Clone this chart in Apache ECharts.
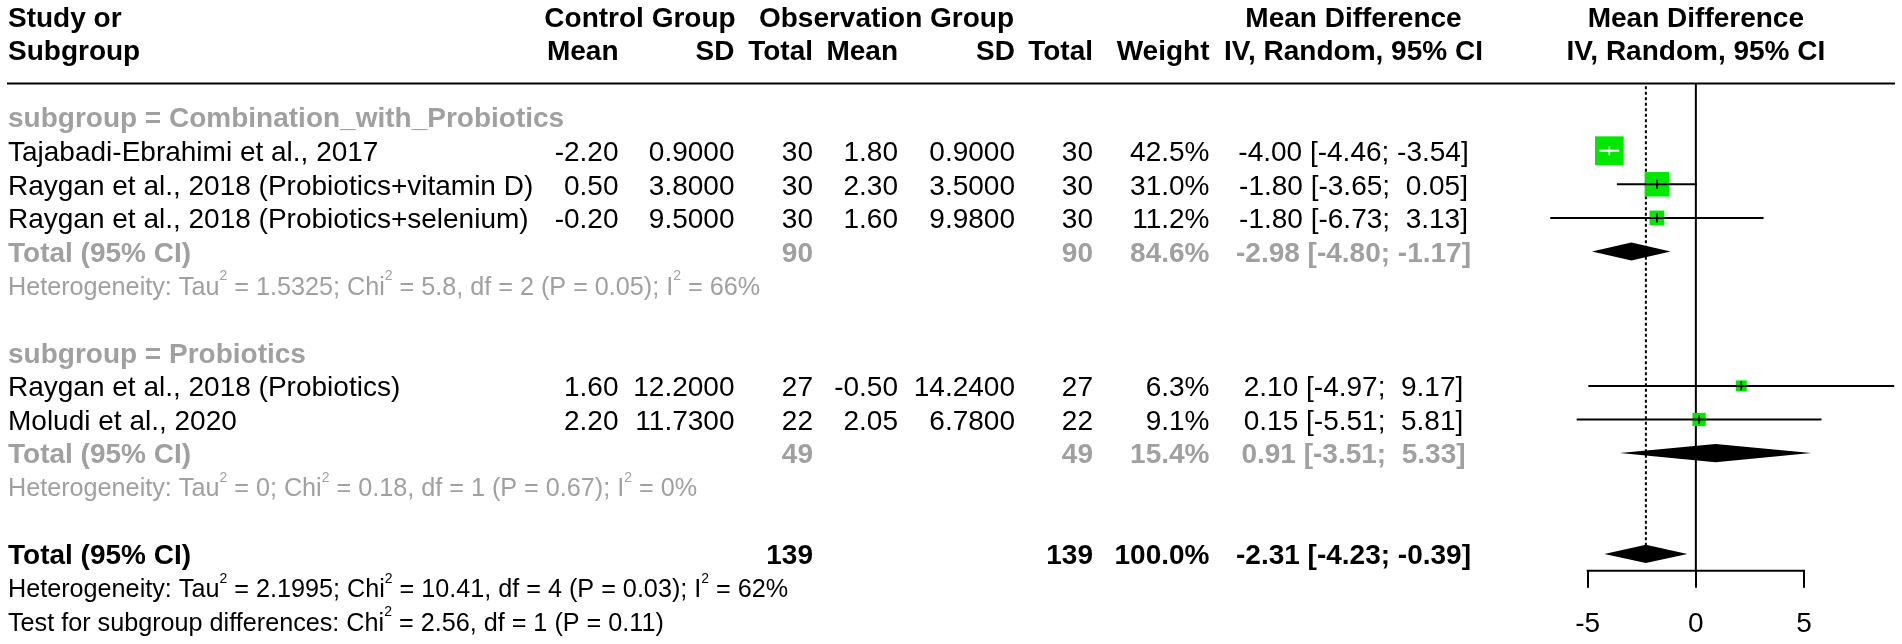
<!DOCTYPE html>
<html><head><meta charset="utf-8">
<script src="https://cdn.jsdelivr.net/npm/echarts@6/dist/echarts.min.js"></script>
<style>html,body{margin:0;padding:0;background:#fff}#c{width:1902px;height:644px}</style>
</head><body><div id="c"></div>
<script>
// ---------- data ----------
const studies = ['Tajabadi-Ebrahimi et al., 2017', 'Raygan et al., 2018 (Probiotics+vitamin D)', 'Raygan et al., 2018 (Probiotics+selenium)', 'Raygan et al., 2018 (Probiotics)', 'Moludi et al., 2020'];
const studyGroup = [0, 0, 0, 1, 1];
const ctrlMean = [-2.20, 0.50, -0.20, 1.60, 2.20];
const ctrlSD = [0.9, 3.8, 9.5, 12.2, 11.73];
const ctrlN = [30, 30, 30, 27, 22];
const obsMean = [1.80, 2.30, 1.60, -0.50, 2.05];
const obsSD = [0.9, 3.5, 9.98, 14.24, 6.78];
const obsN = [30, 30, 30, 27, 22];
const weight = [42.5, 31.0, 11.2, 6.3, 9.1];
const md = [-4.00, -1.80, -1.80, 2.10, 0.15];
const mdLow = [-4.46, -3.65, -6.73, -4.97, -5.51];
const mdHigh = [-3.54, 0.05, 3.13, 9.17, 5.81];

const subgroups = ['Combination_with_Probiotics', 'Probiotics'];
const subCtrlN = [90, 49];
const subObsN = [90, 49];
const subWeight = [84.6, 15.4];
const subMD = [-2.98, 0.91];
const subLow = [-4.80, -3.51];
const subHigh = [-1.17, 5.33];
const subTau2 = ['1.5325', '0'];
const subChi2 = ['5.8', '0.18'];
const subDf = [2, 1];
const subP = ['0.05', '0.67'];
const subI2 = [66, 0];

const totCtrlN = 139, totObsN = 139, totWeight = 100.0;
const totMD = -2.31, totLow = -4.23, totHigh = -0.39;
const totTau2 = '2.1995', totChi2 = '10.41', totDf = 4, totP = '0.03', totI2 = 62;
const testChi2 = '2.56', testDf = 1, testP = '0.11';

const xTicks = [-5, 0, 5];

// ---------- layout helpers ----------
const FONT = '"Liberation Sans", Arial, Helvetica, sans-serif';
const GRAY = '#a0a0a0';
const GREEN = '#00e800';
const TXT_DY = 2.5;
const X = {study: 8, cMean: 618.5, cSD: 734.5, cN: 813, oMean: 898, oSD: 1015, oN: 1093, w: 1209.5, ci: 1353.5, cGroup: 640, oGroup: 886.5};

const rows = [{row: -2, kind: 'head1'}, {row: -1, kind: 'head2'}];
const studyRow = [];
const subRow = [];
let r = 1;
subgroups.forEach((sg, g) => {
  rows.push({row: r++, kind: 'sublabel', g});
  studies.forEach((s, i) => { if (studyGroup[i] === g) { studyRow[i] = r; rows.push({row: r++, kind: 'study', i}); } });
  subRow[g] = r;
  rows.push({row: r++, kind: 'subtotal', g});
  rows.push({row: r++, kind: 'subhet', g});
  r++;
});
const totRow = r;
rows.push({row: r++, kind: 'total'});
rows.push({row: r++, kind: 'het'});
rows.push({row: r++, kind: 'test'});
const axisRow = totRow + 0.5;

const ciText = (m, lo, hi) => m.toFixed(2) + ' [' + (lo < 0 ? '' : ' ') + lo.toFixed(2) + ';' + (hi < 0 ? ' ' : '  ') + hi.toFixed(2) + ']';
const hetText = (t, c, d, p, i2) => 'Heterogeneity: Tau{s|2} = ' + t + '; Chi{s|2} = ' + c + ', df = ' + d + ' (P = ' + p + '); I{s|2} = ' + i2 + '%';

function txt(x, y, text, o) {
  o = o || {};
  const color = o.color || '#000';
  const size = o.size || 28;
  const align = o.align || 'left';
  const st = {x, y: y + TXT_DY, text: String(text), fill: color, fontSize: size, fontWeight: o.bold ? 'bold' : 'normal', fontFamily: FONT,
    align, verticalAlign: 'middle', textAlign: align, textVerticalAlign: 'middle'};
  if (o.rich) {
    st.lineHeight = 36;
    st.rich = {s: {fontSize: 14, fontFamily: FONT, fill: color, verticalAlign: 'top', lineHeight: 15}};
  }
  return {type: 'text', style: st};
}

function renderTable(params, api) {
  const R = rows[params.dataIndex];
  const y = api.coord([0, R.row])[1];
  const x0 = api.coord([0, R.row])[0];
  const e = [];
  if (R.kind === 'head1') {
    e.push(txt(X.study, y, 'Study or', {bold: true}));
    e.push(txt(X.cGroup, y, 'Control Group', {bold: true, align: 'center'}));
    e.push(txt(X.oGroup, y, 'Observation Group', {bold: true, align: 'center'}));
    e.push(txt(X.ci, y, 'Mean Difference', {bold: true, align: 'center'}));
    e.push(txt(x0, y, 'Mean Difference', {bold: true, align: 'center'}));
  } else if (R.kind === 'head2') {
    e.push(txt(X.study, y, 'Subgroup', {bold: true}));
    e.push(txt(X.cMean, y, 'Mean', {bold: true, align: 'right'}));
    e.push(txt(X.cSD, y, 'SD', {bold: true, align: 'right'}));
    e.push(txt(X.cN, y, 'Total', {bold: true, align: 'right'}));
    e.push(txt(X.oMean, y, 'Mean', {bold: true, align: 'right'}));
    e.push(txt(X.oSD, y, 'SD', {bold: true, align: 'right'}));
    e.push(txt(X.oN, y, 'Total', {bold: true, align: 'right'}));
    e.push(txt(X.w, y, 'Weight', {bold: true, align: 'right'}));
    e.push(txt(X.ci, y, 'IV, Random, 95% CI', {bold: true, align: 'center'}));
    e.push(txt(x0, y, 'IV, Random, 95% CI', {bold: true, align: 'center'}));
  } else if (R.kind === 'sublabel') {
    e.push(txt(X.study, y, 'subgroup = ' + subgroups[R.g], {bold: true, color: GRAY}));
  } else if (R.kind === 'study') {
    const i = R.i;
    e.push(txt(X.study, y, studies[i]));
    e.push(txt(X.cMean, y, ctrlMean[i].toFixed(2), {align: 'right'}));
    e.push(txt(X.cSD, y, ctrlSD[i].toFixed(4), {align: 'right'}));
    e.push(txt(X.cN, y, ctrlN[i], {align: 'right'}));
    e.push(txt(X.oMean, y, obsMean[i].toFixed(2), {align: 'right'}));
    e.push(txt(X.oSD, y, obsSD[i].toFixed(4), {align: 'right'}));
    e.push(txt(X.oN, y, obsN[i], {align: 'right'}));
    e.push(txt(X.w, y, weight[i].toFixed(1) + '%', {align: 'right'}));
    e.push(txt(X.ci, y, ciText(md[i], mdLow[i], mdHigh[i]), {align: 'center'}));
  } else if (R.kind === 'subtotal' || R.kind === 'total') {
    const g = R.g;
    const isT = R.kind === 'total';
    const o = {bold: true, color: isT ? '#000' : GRAY};
    e.push(txt(X.study, y, 'Total (95% CI)', o));
    e.push(txt(X.cN, y, isT ? totCtrlN : subCtrlN[g], Object.assign({align: 'right'}, o)));
    e.push(txt(X.oN, y, isT ? totObsN : subObsN[g], Object.assign({align: 'right'}, o)));
    e.push(txt(X.w, y, (isT ? totWeight : subWeight[g]).toFixed(1) + '%', Object.assign({align: 'right'}, o)));
    e.push(txt(X.ci, y, isT ? ciText(totMD, totLow, totHigh) : ciText(subMD[g], subLow[g], subHigh[g]), Object.assign({align: 'center'}, o)));
  } else if (R.kind === 'subhet') {
    const g = R.g;
    e.push(txt(X.study, y, hetText(subTau2[g], subChi2[g], subDf[g], subP[g], subI2[g]), {size: 25.2, color: GRAY, rich: true}));
  } else if (R.kind === 'het') {
    e.push(txt(X.study, y, hetText(totTau2, totChi2, totDf, totP, totI2), {size: 25.2, rich: true}));
  } else if (R.kind === 'test') {
    e.push(txt(X.study, y, 'Test for subgroup differences: Chi{s|2} = ' + testChi2 + ', df = ' + testDf + ' (P = ' + testP + ')', {size: 25.2, rich: true}));
  }
  return {type: 'group', children: e};
}

function renderRefs(params, api) {
  const yTop = api.coord([0, 0])[1];
  const z0 = api.coord([0, 0]);
  const z1 = api.coord([0, axisRow]);
  const d0 = api.coord([api.value(0), 0.08]);
  const d1 = api.coord([api.value(0), totRow]);
  const a0 = api.coord([xTicks[0], axisRow]);
  const a1 = api.coord([xTicks[xTicks.length - 1], axisRow]);
  const ls = {stroke: '#000', lineWidth: 2};
  return {type: 'group', children: [
    {type: 'line', shape: {x1: 7, y1: yTop, x2: 1895, y2: yTop}, style: ls},
    {type: 'line', shape: {x1: z0[0], y1: z0[1], x2: z1[0], y2: z1[1]}, style: ls},
    {type: 'line', shape: {x1: d0[0], y1: d0[1], x2: d1[0], y2: d1[1]}, style: {stroke: '#000', lineWidth: 2, lineDash: [3, 2.5]}},
    {type: 'line', shape: {x1: a0[0] - 1, y1: a0[1], x2: a1[0] + 1, y2: a1[1]}, style: ls}
  ]};
}

function renderStudy(params, api) {
  const row = api.value(3);
  const c = api.coord([api.value(0), row]);
  const l = api.coord([api.value(1), row]);
  const h = api.coord([api.value(2), row]);
  const s = 28.7 * Math.sqrt(api.value(4) / weight[0]);
  const inside = l[0] >= c[0] - s / 2 && h[0] <= c[0] + s / 2;
  const col = inside ? '#fff' : '#000';
  return {type: 'group', children: [
    {type: 'rect', shape: {x: c[0] - s / 2, y: c[1] - s / 2, width: s, height: s}, style: {fill: GREEN}},
    {type: 'line', shape: {x1: l[0], y1: l[1], x2: h[0], y2: h[1]}, style: {stroke: col, lineWidth: 2}},
    {type: 'line', shape: {x1: c[0], y1: c[1] - 4.5, x2: c[0], y2: c[1] + 4.5}, style: {stroke: col, lineWidth: 1.6}}
  ]};
}

function renderDiamond(params, api) {
  const row = api.value(3);
  const hh = 0.27;
  const pts = [
    api.coord([api.value(1), row]),
    api.coord([api.value(0), row - hh]),
    api.coord([api.value(2), row]),
    api.coord([api.value(0), row + hh])
  ];
  return {type: 'polygon', shape: {points: pts}, style: {fill: '#000'}};
}

const studyData = studies.map((s, i) => [md[i], mdLow[i], mdHigh[i], studyRow[i], weight[i]]);
const diamondData = subgroups.map((s, g) => [subMD[g], subLow[g], subHigh[g], subRow[g]]).concat([[totMD, totLow, totHigh, totRow]]);

const chart = echarts.init(document.getElementById('c'), null, {renderer: 'canvas'});
chart.setOption({
  animation: false,
  backgroundColor: '#fff',
  grid: {left: 1479.55, top: 83.5, width: 421.8, height: 487.2, containLabel: false},
  xAxis: {
    type: 'value', min: -10, max: 9.5, position: 'bottom',
    axisLine: {show: false, onZero: false},
    splitLine: {show: false},
    axisTick: {show: true, customValues: xTicks, length: 17, lineStyle: {color: '#000', width: 2}},
    axisLabel: {show: true, customValues: xTicks, fontSize: 28, color: '#000', fontFamily: FONT, margin: 40}
  },
  yAxis: {type: 'value', inverse: true, min: 0, max: axisRow, show: false},
  series: [
    {type: 'custom', renderItem: renderRefs, data: [[totMD, 0]], encode: {x: 0, y: 1}, clip: false, silent: true, z: 1},
    {type: 'custom', renderItem: renderDiamond, data: diamondData, encode: {x: [0, 1, 2], y: 3}, clip: false, silent: true, z: 2},
    {type: 'custom', renderItem: renderStudy, data: studyData, encode: {x: [0, 1, 2], y: 3}, clip: false, silent: true, z: 3},
    {type: 'custom', renderItem: renderTable, data: rows.map(R => [0, R.row]), encode: {x: 0, y: 1}, clip: false, silent: true, z: 4}
  ]
});
</script>
</body></html>
